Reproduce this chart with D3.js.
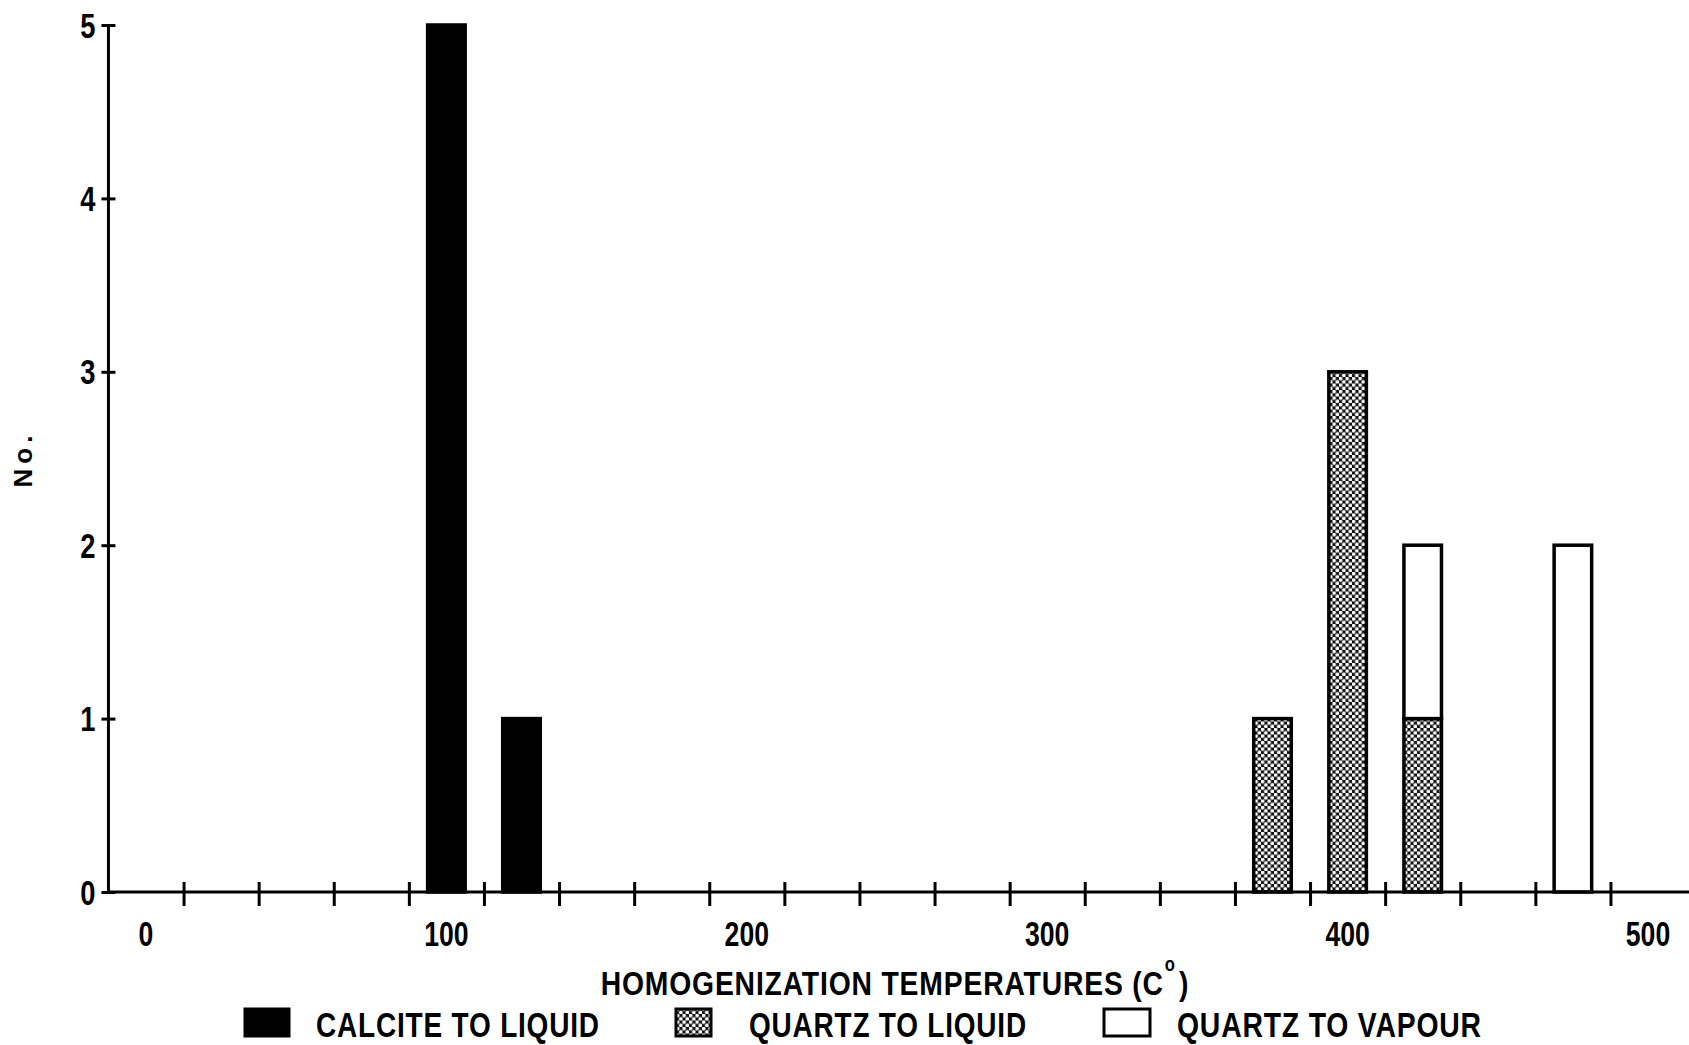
<!DOCTYPE html>
<html>
<head>
<meta charset="utf-8">
<script src="https://cdn.jsdelivr.net/npm/d3@7"></script>
<style>
  body { margin: 0; background: #fff; }
  svg text { font-family: "Liberation Sans", Arial, sans-serif; font-weight: bold; fill: #000; }
</style>
</head>
<body>
<svg id="chart" width="1689" height="1045"></svg>
<script>
// bin centres (degrees C) and counts per series
const bins = [100, 125, 375, 400, 425, 475]
const calciteToLiquid = [5, 1, 0, 0, 0, 0]
const quartzToLiquid = [0, 0, 1, 3, 1, 0]
const quartzToVapour = [0, 0, 0, 0, 1, 2]
const seriesNames = ['CALCITE TO LIQUID', 'QUARTZ TO LIQUID', 'QUARTZ TO VAPOUR']
const xLabels = [0, 100, 200, 300, 400, 500]
const yTicks = [0, 1, 2, 3, 4, 5]
const binEdges = d3.range(12.5, 500, 25)
const binWidth = 25

const svg = d3.select('#chart')

// squeeze a text horizontally so it looks like a condensed face
function squeeze(sel, cx, cy, width) {
  const w = sel.node().getBBox().width
  sel.attr('transform', `translate(${cx}, ${cy}) scale(${width / w}, 1)`)
}

// pattern for the quartz to liquid bars
const defs = svg.append('defs')
const pat = defs.append('pattern')
  .attr('id', 'dots')
  .attr('patternUnits', 'userSpaceOnUse')
  .attr('width', 6.5)
  .attr('height', 6.5)
pat.append('rect').attr('width', 6.5).attr('height', 6.5).attr('fill', '#111')
pat.append('circle').attr('cx', 1.6).attr('cy', 1.6).attr('r', 1.9).attr('fill', '#fff')
pat.append('circle').attr('cx', 4.85).attr('cy', 4.85).attr('r', 1.9).attr('fill', '#fff')

const fills = ['#000', 'url(#dots)', '#fff']

const x = d3.scaleLinear().domain([0, 500]).range([146, 1648])
const y = d3.scaleLinear().domain([0, 5]).range([892, 25])

// stack the series
const rows = bins.map((b, i) => ({
  bin: b,
  calcite: calciteToLiquid[i],
  qLiquid: quartzToLiquid[i],
  qVapour: quartzToVapour[i]
}))
const stack = d3.stack().keys(['calcite', 'qLiquid', 'qVapour'])
const stacked = stack(rows)

const barW = x(binWidth / 2) - x(0)

const barGroup = svg.append('g')
stacked.forEach((layer, k) => {
  barGroup.append('g')
    .selectAll('rect')
    .data(layer.filter(d => d[1] > d[0]))
    .enter()
    .append('rect')
    .attr('x', d => x(d.data.bin) - barW / 2)
    .attr('y', d => y(d[1]))
    .attr('width', barW)
    .attr('height', d => y(d[0]) - y(d[1]))
    .attr('fill', fills[k])
    .attr('stroke', '#000')
    .attr('stroke-width', 3.5)
})

// x axis
const xAxis = d3.axisBottom(x)
  .tickValues(binEdges)
  .tickFormat('')
  .tickSize(12)
const gx = svg.append('g')
  .attr('transform', `translate(0, ${y(0)})`)
  .call(xAxis)
gx.select('.domain').remove()
gx.selectAll('.tick line')
  .attr('y1', -10)
  .attr('y2', 14)
  .attr('stroke', '#000')
  .attr('stroke-width', 3)
gx.append('line')
  .attr('x1', x(-12.5))
  .attr('x2', 1689)
  .attr('stroke', '#000')
  .attr('stroke-width', 3)
gx.selectAll('.xlab')
  .data(xLabels)
  .enter()
  .append('text')
  .attr('class', 'xlab')
  .attr('text-anchor', 'middle')
  .attr('transform', d => `translate(${x(d)}, 54) scale(0.76, 1)`)
  .style('font-size', '35px')
  .text(d => d)

// y axis
const yAxis = d3.axisLeft(y)
  .tickValues(yTicks)
  .tickFormat(d3.format('d'))
  .tickSize(7)
const gy = svg.append('g')
  .attr('transform', `translate(${x(-12.5)}, 0)`)
  .call(yAxis)
gy.select('.domain').remove()
gy.append('line')
  .attr('y1', y(0) + 2)
  .attr('y2', y(5))
  .attr('stroke', '#000')
  .attr('stroke-width', 3)
gy.selectAll('.tick line')
  .attr('x1', -7)
  .attr('x2', 7)
  .attr('stroke', '#000')
  .attr('stroke-width', 3)
gy.selectAll('.tick text')
  .attr('x', null)
  .attr('dy', null)
  .attr('font-family', null)
  .attr('transform', 'translate(-13, 12) scale(0.78, 1)')
  .style('font-size', '35px')

// axis titles
svg.append('text')
  .attr('transform', 'translate(32, 459) rotate(-90)')
  .attr('text-anchor', 'middle')
  .style('font-size', '26px')
  .style('letter-spacing', '5px')
  .text('No.')

const xTitle = svg.append('text')
  .attr('text-anchor', 'middle')
  .style('font-size', '34px')
  .style('letter-spacing', '1px')
xTitle.append('tspan').text('HOMOGENIZATION TEMPERATURES (C')
xTitle.append('tspan').attr('dy', -24).attr('dx', 1).style('font-size', '20px').text('o')
xTitle.append('tspan').attr('dy', 24).attr('dx', 4).text(')')
squeeze(xTitle, 895, 995, 589)

// legend
const legendX = [245, 676, 1104]
const legendW = [44, 35, 46]
const legendTextX = [316, 749, 1177]
const legendTextW = [284, 278, 305]
const legend = svg.append('g')
seriesNames.forEach((name, i) => {
  legend.append('rect')
    .attr('x', legendX[i])
    .attr('y', 1009)
    .attr('width', legendW[i])
    .attr('height', 27)
    .attr('fill', fills[i])
    .attr('stroke', '#000')
    .attr('stroke-width', 3)
  const t = legend.append('text')
    .style('font-size', '35px')
    .style('letter-spacing', '1px')
    .text(name)
  squeeze(t, legendTextX[i], 1037, legendTextW[i])
})
</script>
</body>
</html>
